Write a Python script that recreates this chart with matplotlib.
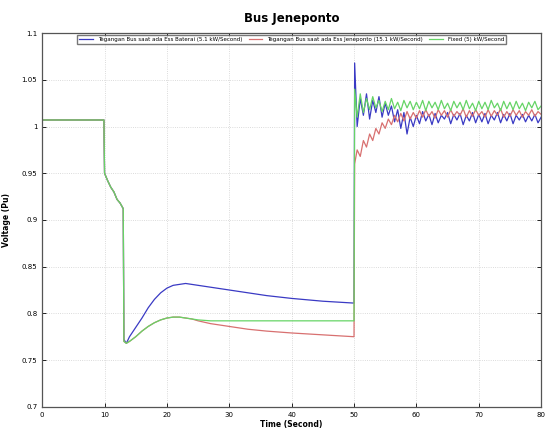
import numpy as np
import matplotlib
matplotlib.use('Agg')
from matplotlib import pyplot as plt

# time axis before the second disturbance (shared by all series)
t_pre = [0, 9.9, 10, 10.5, 11, 11.5, 12, 12.5, 13, 13.1, 13.5, 14, 15, 16, 17, 18,
         19, 20, 21, 22, 23, 24, 25, 27, 30, 33, 36, 40, 45, 50]
# time axis after t = 50 s
t_post = [50.1] + list(np.arange(50.5, 80.01, 0.5))

blue_pre = [1.007, 1.007, 0.950, 0.942, 0.935, 0.930, 0.922, 0.918, 0.912,
            0.772, 0.768, 0.775, 0.785, 0.795, 0.806, 0.815, 0.822, 0.827, 0.830,
            0.831, 0.832, 0.831, 0.830, 0.828, 0.825, 0.822, 0.819, 0.816, 0.813, 0.811]
red_pre = [1.007, 1.007, 0.950, 0.942, 0.935, 0.930, 0.922, 0.918, 0.912,
           0.770, 0.768, 0.770, 0.775, 0.781, 0.786, 0.790, 0.793, 0.795, 0.796,
           0.796, 0.795, 0.794, 0.792, 0.789, 0.786, 0.783, 0.781, 0.779, 0.777, 0.775]
green_pre = [1.007, 1.007, 0.950, 0.942, 0.935, 0.930, 0.922, 0.918, 0.912,
             0.770, 0.768, 0.770, 0.775, 0.781, 0.786, 0.790, 0.793, 0.795, 0.796,
             0.796, 0.795, 0.794, 0.793, 0.792, 0.792, 0.792, 0.792, 0.792, 0.792, 0.792]

blue_post = [1.068, 1.000, 1.030, 1.012, 1.035, 1.008, 1.028, 1.015, 1.032, 1.010,
             1.025, 1.012, 1.022, 1.005, 1.018, 0.998, 1.015, 0.992, 1.010, 1.000,
             1.012, 1.003, 1.016, 1.006, 1.013, 1.002, 1.014, 1.004, 1.012, 1.008,
             1.015, 1.003, 1.013, 1.007, 1.014, 1.002, 1.012, 1.006, 1.015, 1.004,
             1.013, 1.005, 1.014, 1.003, 1.012, 1.007, 1.015, 1.004, 1.013, 1.006,
             1.014, 1.003, 1.012, 1.007, 1.013, 1.005, 1.012, 1.006, 1.013, 1.004, 1.010]
red_post = [0.960, 0.975, 0.968, 0.985, 0.978, 0.992, 0.985, 0.998, 0.992, 1.004,
            0.998, 1.008, 1.002, 1.012, 1.005, 1.014, 1.006, 1.016, 1.008, 1.015,
            1.009, 1.017, 1.010, 1.018, 1.011, 1.016, 1.009, 1.018, 1.012, 1.017,
            1.010, 1.018, 1.011, 1.016, 1.012, 1.019, 1.010, 1.017, 1.011, 1.018,
            1.012, 1.016, 1.010, 1.018, 1.011, 1.017, 1.012, 1.019, 1.010, 1.016,
            1.011, 1.018, 1.012, 1.017, 1.010, 1.016, 1.012, 1.018, 1.011, 1.016, 1.013]
green_post = [1.040, 1.010, 1.035, 1.015, 1.030, 1.018, 1.032, 1.020, 1.028, 1.016,
              1.027, 1.018, 1.030, 1.019, 1.026, 1.017, 1.028, 1.020, 1.027, 1.018,
              1.026, 1.019, 1.028, 1.017, 1.027, 1.020, 1.026, 1.018, 1.028, 1.019,
              1.025, 1.017, 1.027, 1.020, 1.026, 1.018, 1.028, 1.019, 1.025, 1.017,
              1.027, 1.019, 1.026, 1.018, 1.028, 1.020, 1.025, 1.017, 1.027, 1.019,
              1.026, 1.018, 1.027, 1.019, 1.025, 1.017, 1.026, 1.020, 1.027, 1.018, 1.022]

labels = ['Tegangan Bus saat ada Ess Baterai (5.1 kW/Second)',
          'Tegangan Bus saat ada Ess Jeneponto (15.1 kW/Second)',
          'Fixed (5) kW/Second']
x_ticks = [0, 10, 20, 30, 40, 50, 60, 70, 80]
y_ticks = [0.7, 0.75, 0.8, 0.85, 0.9, 0.95, 1.0, 1.05, 1.1]
y_ticklabels = ['0.7', '0.75', '0.8', '0.85', '0.9', '0.95', '1', '1.05', '1.1']

fig = plt.figure(figsize=(5.55, 4.3), dpi=100)
ax = fig.add_axes([0.076, 0.054, 0.899, 0.869])

t_all = t_pre + t_post
ax.plot(t_all, blue_pre + blue_post, color='#3a3ac4', lw=0.9, label=labels[0])
ax.plot(t_all, red_pre + red_post, color='#d87070', lw=0.9, label=labels[1])
ax.plot(t_all, green_pre + green_post, color='#66d466', lw=0.9, label=labels[2])

ax.set_xlim(0, 80)
ax.set_ylim(0.7, 1.1)
ax.set_xticks(x_ticks)
ax.set_yticks(y_ticks)
ax.set_yticklabels(y_ticklabels)
ax.tick_params(direction='in', labelsize=5, length=3, width=0.6, top=True, right=True)
ax.grid(True, color='#cfcfcf', ls=':', lw=0.6)
for sp in ax.spines.values():
    sp.set_linewidth(0.9)
    sp.set_color('#555555')

ax.set_title('Bus Jeneponto', fontsize=8.5, fontweight='bold', pad=8)
ax.set_xlabel('Time (Second)', fontsize=5.5, fontweight='bold', labelpad=2)
ax.set_ylabel('Voltage (Pu)', fontsize=5.5, fontweight='bold', labelpad=8)

ax.legend(loc='upper center', ncol=3, fontsize=4, frameon=True, fancybox=False,
          edgecolor='#555555', handlelength=2.5, columnspacing=1.2,
          bbox_to_anchor=(0.5, 1.0), borderaxespad=0.3)

fig.savefig('out.png', dpi=100)
